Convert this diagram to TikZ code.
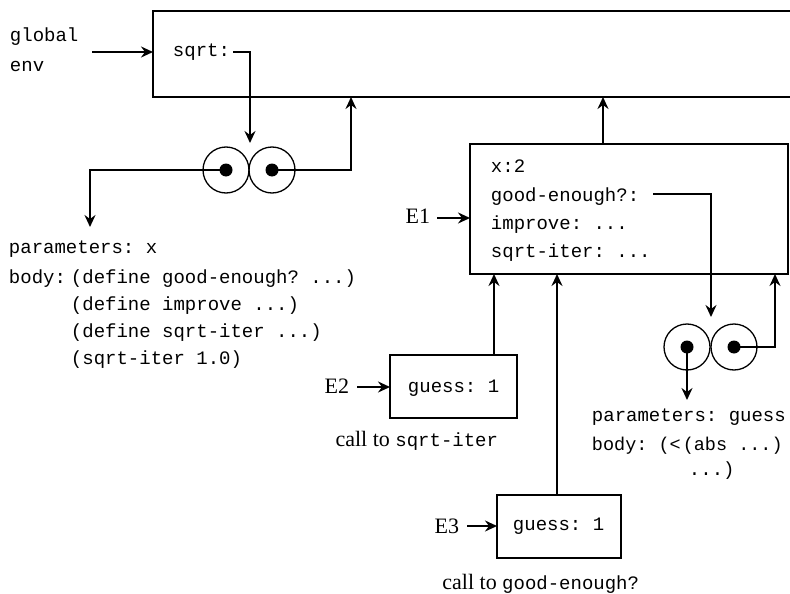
\documentclass[tikz,border=0pt]{standalone}
\usepackage{fontspec}
\setmainfont{Liberation Serif}
\setmonofont{Liberation Mono}
\usetikzlibrary{arrows.meta}
\begin{document}
\begin{tikzpicture}[x=1pt,y=-1pt,line width=1.9pt,
  arr/.style={-{Stealth[length=12pt,width=11pt,inset=4pt]}},
  code/.style={font=\fontsize{19}{19}\selectfont\ttfamily,inner sep=0pt,anchor=base west},
  lbl/.style={font=\fontsize{22}{22}\selectfont,inner sep=0pt,anchor=base east},
  frame/.style={draw,line width=2pt,inner sep=0pt,outer sep=0pt,anchor=north west},
  ring/.style={circle,draw,line width=1.3pt,minimum size=46pt,inner sep=0pt},
  dot/.style={circle,fill,inner sep=0pt,minimum size=13pt}]
\useasboundingbox (0,0) rectangle (790,594);
\clip (0,0) rectangle (790,594);

% boxes
\node[frame,minimum width=720pt,minimum height=86pt] (genv) at (153,11) {};
\node[frame,minimum width=318pt,minimum height=130pt] (e1box) at (470,144) {};
\node[frame,minimum width=127pt,minimum height=63pt] (e2box) at (390,355) {};
\node[frame,minimum width=124pt,minimum height=63pt] (e3box) at (497,495) {};

% global env
\node[code] (glob) at (9,42) {global};
\node[code] (env) at (9,72) {env};
\coordinate (gin) at (92,52);
\draw[arr] (gin) -- (gin -| genv.west);
\node[code] (sqrt) at (172,57) {sqrt:};

% procedure object of sqrt
\node[ring] (c1) at (226,170) {};
\node[ring] (c2) at (272,170) {};
\node[dot] (d1) at (c1.center) {};
\node[dot] (d2) at (c2.center) {};
\coordinate (s1) at (233,52);
\coordinate (pj) at (250,143);
\draw[arr] (s1) -| (pj);
\coordinate (pa) at (90,227);
\draw[arr] (d1.center) -| (pa);
\coordinate (gb1) at (351,97);
\draw[arr] (d2.center) -| (gb1);

\node[code] (par1) at (8,253) {parameters: x};
\node[code] (body1) at (8,283) {body:};
\node[code] (b1l1) at (70,283) {(define good-enough? ...)};
\node[code] (b1l2) at (70,310) {(define improve ...)};
\node[code] (b1l3) at (70,337) {(define sqrt-iter ...)};
\node[code] (b1l4) at (70,364) {(sqrt-iter 1.0)};

% E1
\node[code] (x2) at (490,172) {x:2};
\node[code] (ge) at (490,201) {good-enough?:};
\node[code] (imp) at (490,229) {improve: ...};
\node[code] (si) at (490,257) {sqrt-iter: ...};
\node[lbl] (e1) at (431,223) {E1};
\coordinate (e1in) at (437,218);
\draw[arr] (e1in) -- (e1in -| e1box.west);
\coordinate (e1top) at (603,144);
\draw[arr] (e1top) -- (e1top |- genv.south);

% procedure object of good-enough?
\node[ring] (c3) at (687,347) {};
\node[ring] (c4) at (734,347) {};
\node[dot] (d3) at (c3.center) {};
\node[dot] (d4) at (c4.center) {};
\coordinate (g1) at (653,194);
\coordinate (gj) at (711,317);
\draw[arr] (g1) -| (gj);
\coordinate (pb) at (687,400);
\draw[arr] (d3.center) -- (pb);
\coordinate (e1b3) at (775,274);
\draw[arr] (d4.center) -| (e1b3);
\node[code] (par2) at (591,421) {parameters: guess};
\node[code,font=\fontsize{18.5}{19}\selectfont\ttfamily] (body2) at (591,450) {body: (<\hspace{2pt}(abs ...)};
\node[code] (body2b) at (688,475) {...)};

% E2
\node[code] (g2) at (407,392) {guess: 1};
\node[lbl] (e2) at (350,393) {E2};
\coordinate (e2in) at (357,387);
\draw[arr] (e2in) -- (e2in -| e2box.west);
\coordinate (e2top) at (494,355);
\draw[arr] (e2top) -- (e2top |- e1box.south);
\node[lbl] (call2) at (499,446) {call to \texttt{\fontsize{19}{19}\selectfont sqrt-iter}};

% E3
\node[code] (g3) at (512,530) {guess: 1};
\node[lbl] (e3) at (460,533) {E3};
\coordinate (e3in) at (467,526);
\draw[arr] (e3in) -- (e3in -| e3box.west);
\coordinate (e3top) at (557,495);
\draw[arr] (e3top) -- (e3top |- e1box.south);
\node[lbl] (call3) at (640,589) {call to \texttt{\fontsize{19}{19}\selectfont good-enough?}};
\end{tikzpicture}
\end{document}
